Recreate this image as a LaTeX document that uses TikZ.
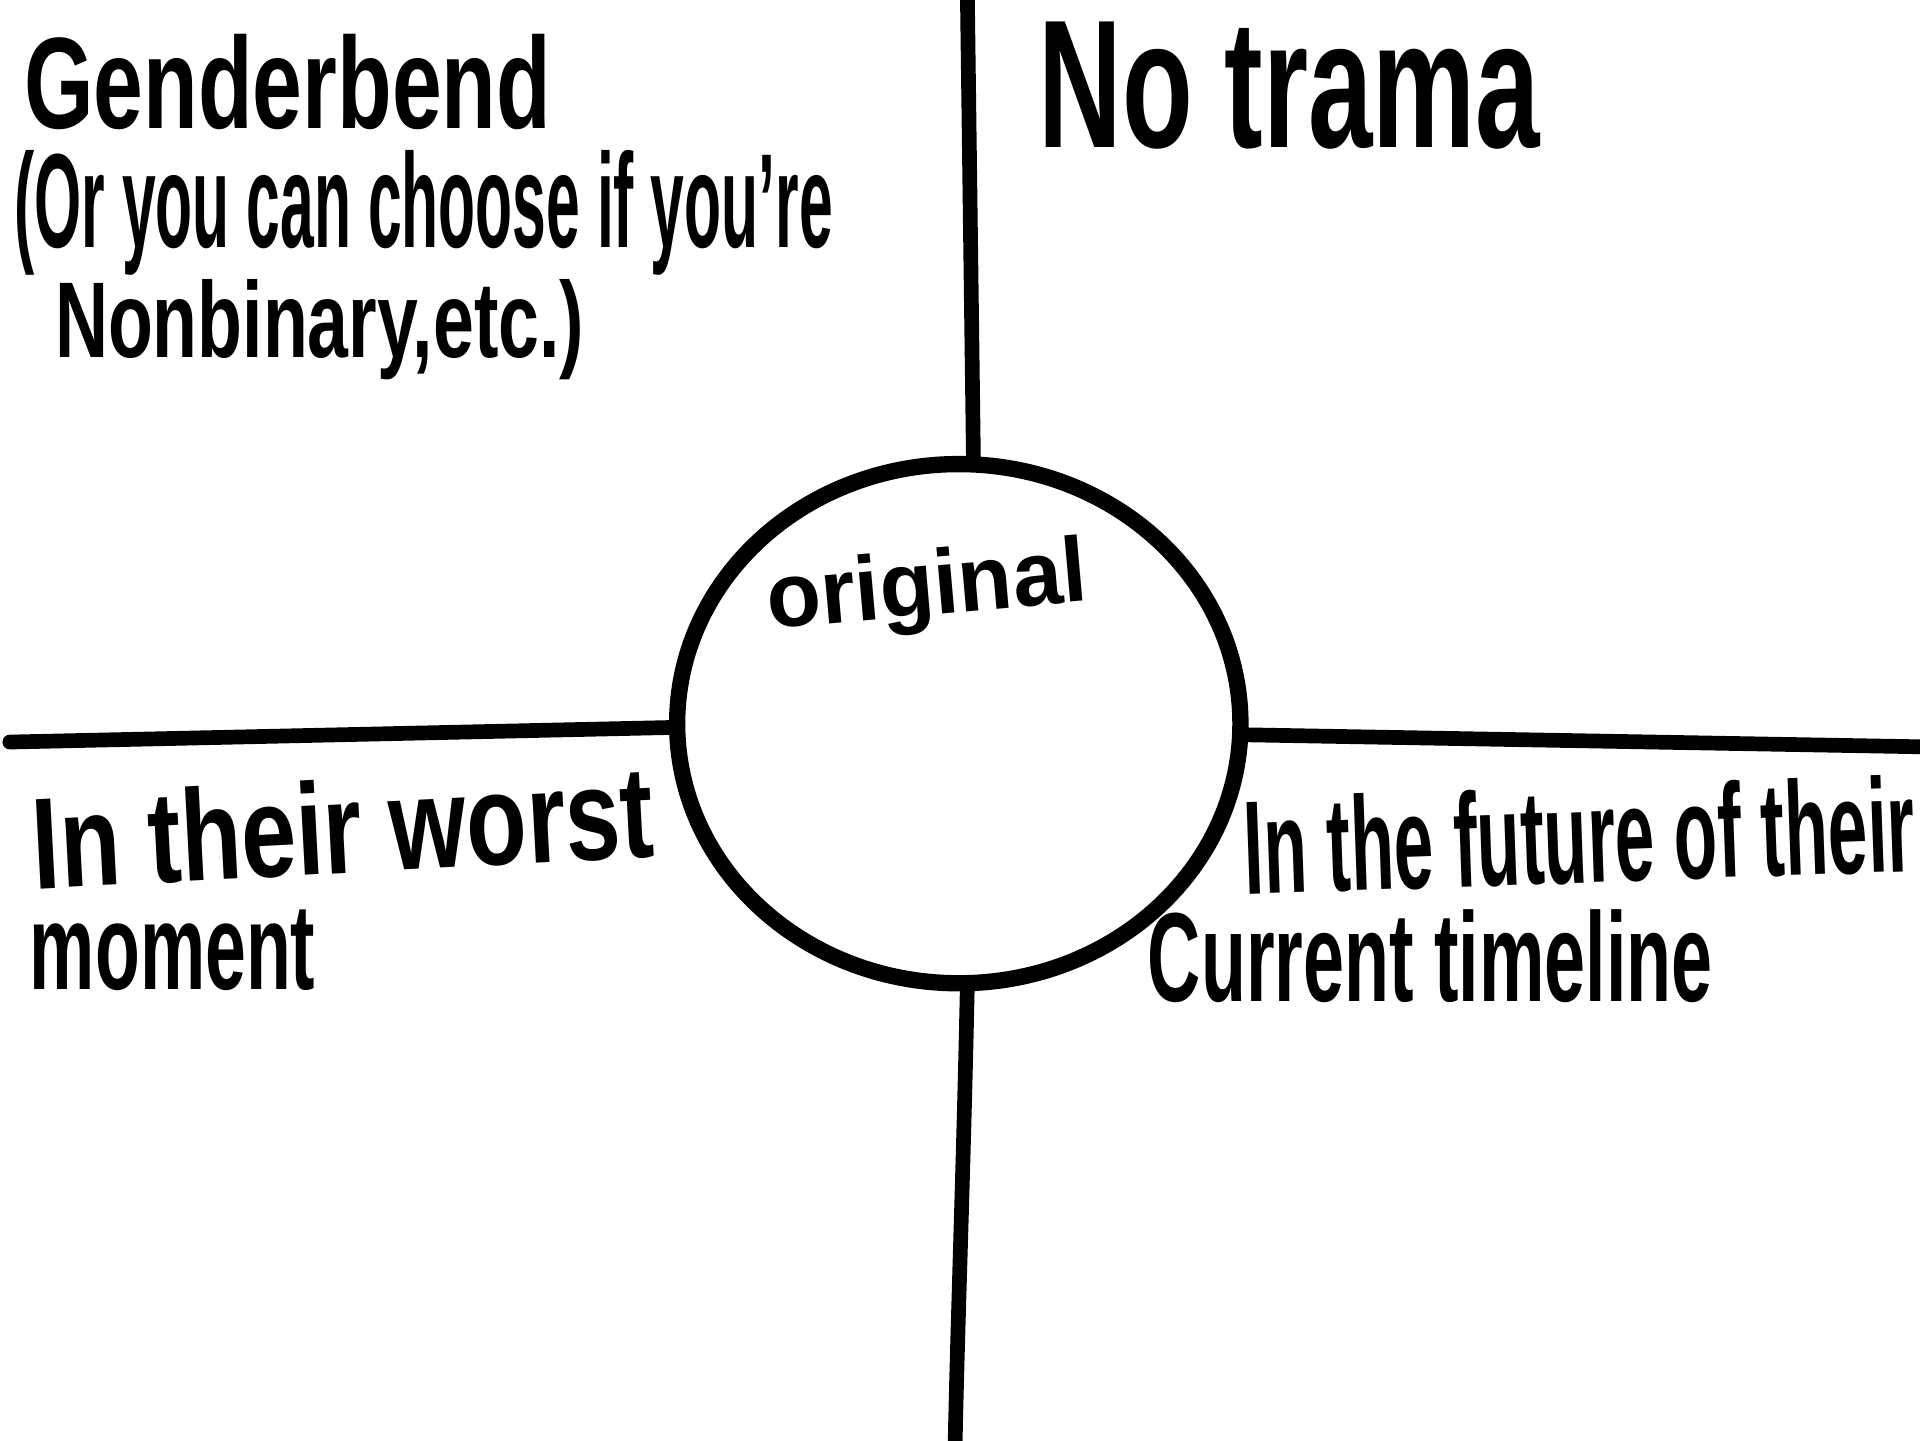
\documentclass[tikz,border=0pt]{standalone}
\usepackage{fontspec}
\setmainfont{Liberation Sans}
\usepackage{graphicx}
\newlength\unitpx
\setlength\unitpx{0.6pt}
\newcommand\fittext[3]{\resizebox*{#1\unitpx}{#2\unitpx}{\bfseries #3}}
\tikzset{
  stroke/.style={line width=7.2pt, line cap=round, line join=round, black},
  ring/.style={line width=8pt, line join=round, black},
  lbl/.style={inner sep=0pt, outer sep=0pt, anchor=center},
}
\begin{document}
\begin{tikzpicture}[x=0.6pt,y=-0.6pt]
\fill[white] (0,0) rectangle (1568,1176);
\useasboundingbox (0,0) rectangle (1568,1176);
% circle
\coordinate (cc) at (783,591);
\draw[ring] (cc) ellipse [x radius=230, y radius=212];
% named coordinates
\coordinate (topend) at (790,-5);
\coordinate (ctop) at (795,379);
\coordinate (leftend) at (8,606);
\coordinate (cleft) at (553,594);
\coordinate (cright) at (1013,600);
\coordinate (rightend) at (1575,610);
\coordinate (cbot) at (790,803);
\coordinate (botend) at (780,1180);
\draw[stroke] (topend) .. controls (792,150) and (794,300) .. (ctop);
\draw[stroke] (leftend) -- (cleft);
\draw[stroke] (cright) -- (rightend);
\draw[stroke] (cbot) .. controls (787,950) and (782,1080) .. (botend);
% texts
\node[lbl] (gb) at (235,67) {\fittext{430}{78}{Genderbend}};
\node[lbl] (gb2) at (346,174) {\fittext{668}{102}{(Or you can choose if you're}};
\node[lbl] (gb3) at (261,269) {\fittext{432}{82}{Nonbinary,etc.)}};
\node[lbl] (nt) at (1053,70) {\fittext{410}{104}{No trama}};
\node[lbl, rotate=5] (orig) at (757,483) {\fittext{262}{70}{original}};
\node[lbl, rotate=3] (worst) at (280,675) {\fittext{508}{78}{In their worst}};
\node[lbl] (mom) at (141,776) {\fittext{233}{66}{moment}};
\node[lbl, rotate=2] (fut) at (1290,682) {\fittext{548}{80}{In the future of their}};
\node[lbl] (cur) at (1168,781) {\fittext{461}{76}{Current timeline}};
\end{tikzpicture}
\end{document}
